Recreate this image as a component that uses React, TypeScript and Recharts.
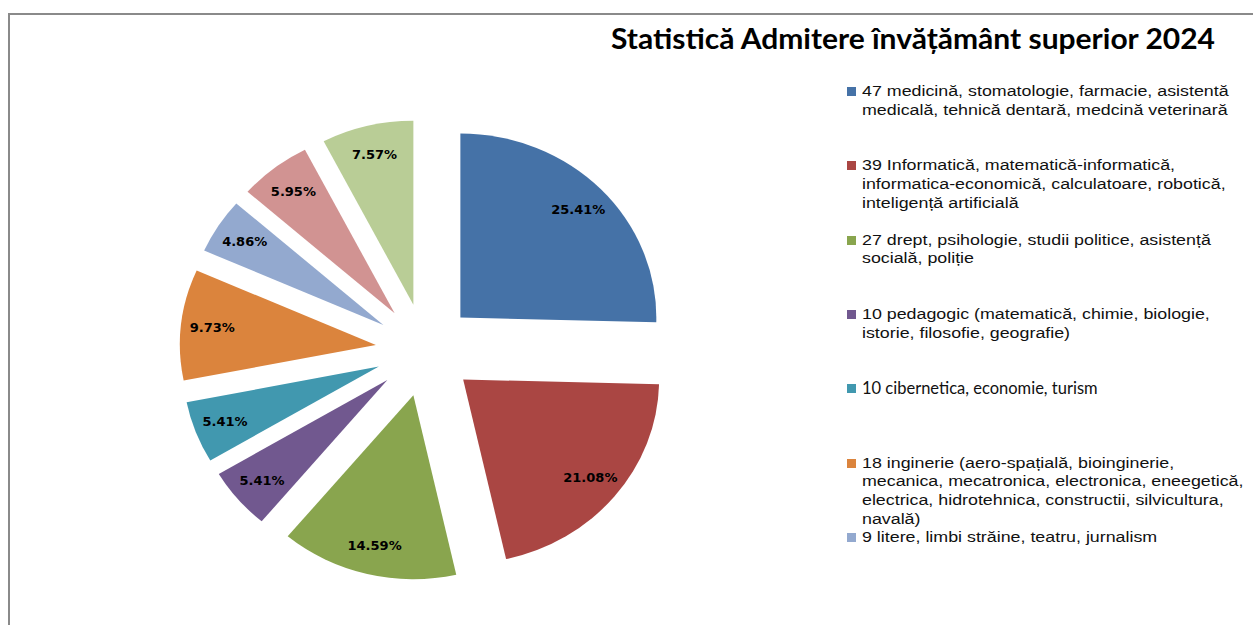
import React from 'react';
import { PieChart, Pie, Cell, Legend } from 'recharts';

const title = 'Statistică Admitere învățământ superior 2024';

const categories = [
  '47 medicină, stomatologie, farmacie, asistentă\nmedicală, tehnică dentară, medcină veterinară',
  '39 Informatică, matematică-informatică,\ninformatica-economică, calculatoare, robotică,\ninteligență artificială',
  '27 drept, psihologie, studii politice, asistență\nsocială, poliție',
  '10 pedagogic (matematică, chimie, biologie,\nistorie, filosofie, geografie)',
  '10 cibernetica, economie, turism',
  '18 inginerie (aero-spațială, bioinginerie,\nmecanica, mecatronica, electronica, eneegetică,\nelectrica, hidrotehnica, constructii, silvicultura,\nnavală)',
  '9 litere, limbi străine, teatru, jurnalism',
  '11',
  '14',
];

const values = [47, 39, 27, 10, 10, 18, 9, 11, 14];

const colors = ['#4572A7', '#AA4643', '#89A54E', '#71588F', '#4198AF', '#DB843D', '#93A9CF', '#D19392', '#B9CD96'];

const legendVisibleCount = 7;

const data = categories.map((name, i) => ({ name, value: values[i] }));

const RAD = Math.PI / 180;
const RX_SCALE = 1.065;
const EXPLODE_X = 49.4;
const EXPLODE_Y = 46.5;
const LABEL_POS = 0.84;

function explode(cx: number, cy: number, mid: number) {
  return [cx + Math.cos(mid * RAD) * EXPLODE_X, cy - Math.sin(mid * RAD) * EXPLODE_Y];
}

const EllipseSector = (props: any) => {
  const { cx, cy, outerRadius, startAngle, endAngle, fill } = props;
  const mid = (startAngle + endAngle) / 2;
  const [ox, oy] = explode(cx, cy, mid);
  const rx = outerRadius * RX_SCALE;
  const ry = outerRadius;
  const x1 = ox + rx * Math.cos(startAngle * RAD);
  const y1 = oy - ry * Math.sin(startAngle * RAD);
  const x2 = ox + rx * Math.cos(endAngle * RAD);
  const y2 = oy - ry * Math.sin(endAngle * RAD);
  const large = Math.abs(endAngle - startAngle) > 180 ? 1 : 0;
  const sweep = startAngle > endAngle ? 1 : 0;
  return (
    <path
      d={`M${ox},${oy} L${x1},${y1} A${rx},${ry} 0 ${large} ${sweep} ${x2},${y2} Z`}
      fill={fill}
      stroke="none"
    />
  );
};

const renderLabel = (props: any) => {
  const { cx, cy, midAngle, outerRadius, percent } = props;
  const [ox, oy] = explode(cx, cy, midAngle);
  const x = ox + Math.cos(midAngle * RAD) * outerRadius * RX_SCALE * LABEL_POS;
  const y = oy - Math.sin(midAngle * RAD) * outerRadius * LABEL_POS;
  return (
    <text
      x={x}
      y={y}
      textAnchor="middle"
      dominantBaseline="central"
      fill="#000"
      style={{ fontFamily: 'DejaVu Sans', fontWeight: 700, fontSize: 13 }}
    >
      {(percent * 100).toFixed(2)}%
    </text>
  );
};

const renderLegend = () => {
  const items = categories.slice(0, legendVisibleCount);
  return (
    <div style={{ position: 'relative', width: '100%', height: '100%', textAlign: 'left' }}>
      {items.map((label, i) => (
        <div key={i} style={{ position: 'absolute', top: i * 74.3, left: 0 }}>
          <div
            style={{
              position: 'absolute',
              left: 1,
              top: 5,
              width: 9,
              height: 9,
              background: colors[i],
            }}
          />
          <div
            style={{
              position: 'absolute',
              left: 16,
              top: 0,
              whiteSpace: 'pre',
              lineHeight: '18.7px',
              fontSize: i === 4 ? 16.5 : 15.5,
              fontFamily: i === 4 ? 'Lato' : '"Liberation Sans", Arial, sans-serif',
              transform: i === 4 ? 'none' : 'scaleX(1.15)',
              transformOrigin: 'left top',
              color: '#111',
            }}
          >
            {label}
          </div>
        </div>
      ))}
    </div>
  );
};

export default function App() {
  return (
    <div
      style={{
        position: 'absolute',
        left: 8,
        top: 13,
        width: 1243,
        height: 610,
        borderTop: '2px solid #8a8a8a',
        borderLeft: '2px solid #8a8a8a',
        background: '#fff',
        overflow: 'hidden',
      }}
    >
      <PieChart width={1243} height={610} margin={{ top: 0, right: 0, bottom: 0, left: 0 }}>
        <text
          x={601}
          y={34}
          textLength={604}
          lengthAdjust="spacingAndGlyphs"
          style={{ fontFamily: 'Lato', fontWeight: 700, fontSize: 29, fill: '#000' }}
        >
          {title}
        </text>
        <Pie
          data={data}
          dataKey="value"
          nameKey="name"
          cx={415}
          cy={335}
          outerRadius={184}
          startAngle={90}
          endAngle={-270}
          stroke="none"
          shape={EllipseSector}
          label={renderLabel}
          labelLine={false}
          isAnimationActive={false}
        >
          {data.map((d, i) => (
            <Cell key={d.name} fill={colors[i]} />
          ))}
        </Pie>
        <Legend
          layout="vertical"
          align="right"
          verticalAlign="middle"
          wrapperStyle={{ left: 836, top: 67, width: 405, height: 530 }}
          content={renderLegend}
        />
      </PieChart>
    </div>
  );
}
